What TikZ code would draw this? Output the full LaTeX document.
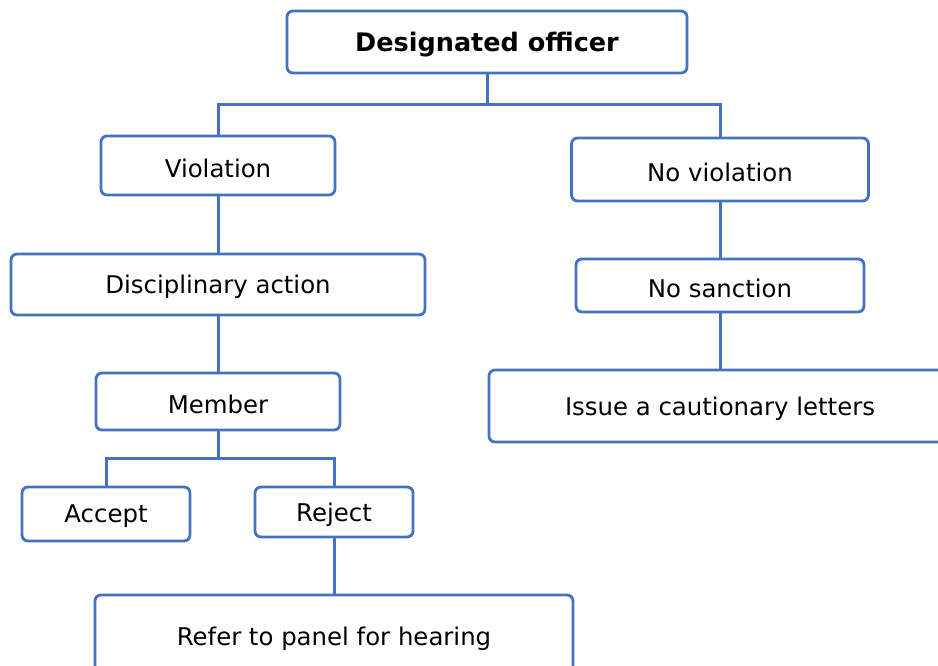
\documentclass[tikz,border=0pt]{standalone}
\usepackage{fontspec}
\setmainfont{DejaVu Sans}
\definecolor{boxblue}{HTML}{4472C4}
\newcommand{\lowtxt}[1]{\raisebox{-2.5pt}[\height][\depth]{#1}}
\begin{document}
\begin{tikzpicture}[x=1pt,y=-1pt,
  box/.style={draw=boxblue,line width=2.8pt,rounded corners=6pt,fill=white,
    inner sep=0pt,font=\fontsize{24.4}{28}\selectfont,text=black},
  conn/.style={draw=boxblue,line width=3.0pt}]
\useasboundingbox (0,0) rectangle (938,666);
\clip (0,0) rectangle (938,666);
\node[box,minimum width=400pt,minimum height=62pt,font=\fontsize{25.5}{29}\selectfont\bfseries] (top) at (487,42) {\lowtxt{Designated officer}};
\node[box,minimum width=234pt,minimum height=59pt] (viol) at (218,165.5) {\lowtxt{Violation}};
\node[box,minimum width=297pt,minimum height=63pt] (noviol) at (720,169.5) {\lowtxt{No violation}};
\node[box,minimum width=414pt,minimum height=61pt] (disc) at (218,284.5) {\lowtxt{Disciplinary action}};
\node[box,minimum width=288pt,minimum height=53pt] (nosanc) at (720,285.5) {\lowtxt{No sanction}};
\node[box,minimum width=462pt,minimum height=72pt] (issue) at (720,406) {\lowtxt{Issue a cautionary letters}};
\node[box,minimum width=244pt,minimum height=57pt] (member) at (218,401.5) {\lowtxt{Member}};
\node[box,minimum width=168pt,minimum height=54pt] (accept) at (106,514) {\lowtxt{Accept}};
\node[box,minimum width=158pt,minimum height=50pt] (reject) at (334,512) {\lowtxt{Reject}};
\node[box,minimum width=478pt,minimum height=82pt] (refer) at (334,636) {\lowtxt{Refer to panel for hearing}};
\coordinate (b1) at (487,105);
\coordinate (b2) at (218,458);
\draw[conn] (top.south) -- (b1);
\draw[conn] (b1) -| (viol.north);
\draw[conn] (b1) -| (noviol.north);
\draw[conn] (viol) -- (disc);
\draw[conn] (disc) -- (member);
\draw[conn] (noviol) -- (nosanc);
\draw[conn] (nosanc) -- (issue);
\draw[conn] (member.south) -- (b2);
\draw[conn] (b2) -| (accept.north);
\draw[conn] (b2) -| (reject.north);
\draw[conn] (reject.south) -- (reject.south |- refer.north);
\end{tikzpicture}
\end{document}
